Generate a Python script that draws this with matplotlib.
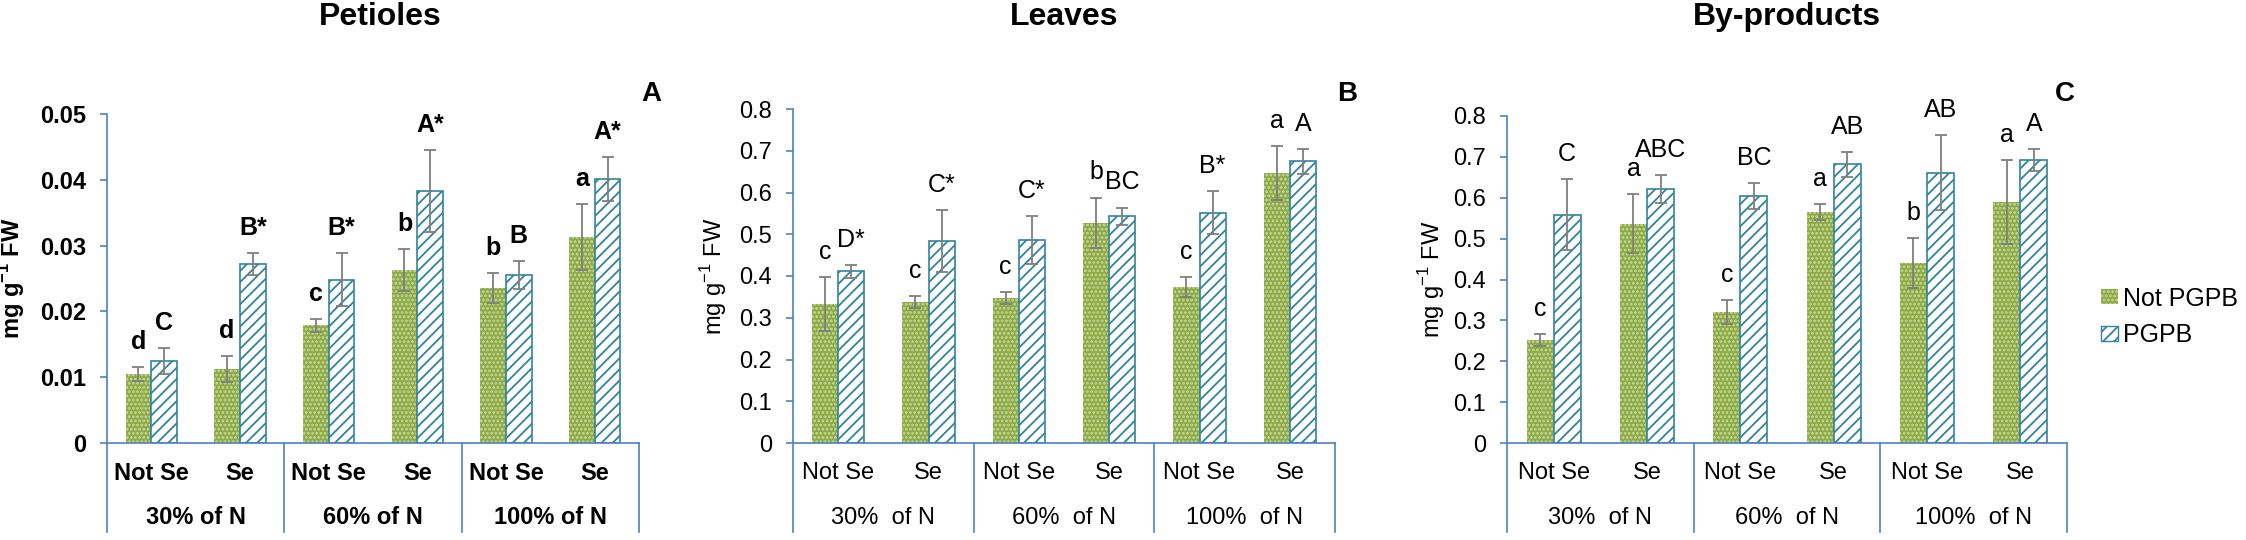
import numpy as np
import matplotlib.pyplot as plt
from matplotlib.patches import Patch
from matplotlib.ticker import FuncFormatter

plt.rcParams['font.family'] = ['Liberation Sans', 'DejaVu Sans']
plt.rcParams['mathtext.fontset'] = 'custom'
plt.rcParams['mathtext.rm'] = 'Liberation Sans'
plt.rcParams['mathtext.bf'] = 'Liberation Sans:bold'
plt.rcParams['hatch.linewidth'] = 1.3

treatments = ["Not Se", "Se", "Not Se", "Se", "Not Se", "Se"]
levels_a = ["30% of N", "60% of N", "100% of N"]
levels_bc = ["30%  of N", "60%  of N", "100%  of N"]

# Petioles
pet_not = [0.0105, 0.0112, 0.0179, 0.0263, 0.0236, 0.0313]
pet_not_err = [0.0011, 0.0020, 0.0010, 0.0032, 0.0023, 0.0050]
pet_pgpb = [0.0125, 0.0272, 0.0248, 0.0383, 0.0255, 0.0401]
pet_pgpb_err = [0.0020, 0.0017, 0.0040, 0.0062, 0.0021, 0.0033]
pet_not_lab = ["d", "d", "c", "b", "b", "a"]
pet_pgpb_lab = ["C", "B*", "B*", "A*", "B", "A*"]

# Leaves
leaf_not = [0.333, 0.337, 0.347, 0.527, 0.374, 0.646]
leaf_not_err = [0.064, 0.014, 0.015, 0.061, 0.024, 0.065]
leaf_pgpb = [0.411, 0.484, 0.486, 0.543, 0.552, 0.675]
leaf_pgpb_err = [0.016, 0.075, 0.058, 0.021, 0.051, 0.030]
leaf_not_lab = ["c", "c", "c", "b", "c", "a"]
leaf_pgpb_lab = ["D*", "C*", "C*", "BC", "B*", "A"]

# By-products
byp_not = [0.252, 0.537, 0.320, 0.565, 0.440, 0.590]
byp_not_err = [0.015, 0.071, 0.030, 0.019, 0.061, 0.102]
byp_pgpb = [0.559, 0.621, 0.604, 0.682, 0.661, 0.692]
byp_pgpb_err = [0.087, 0.035, 0.031, 0.031, 0.092, 0.027]
byp_not_lab = ["c", "a", "c", "a", "b", "a"]
byp_pgpb_lab = ["C", "ABC", "BC", "AB", "AB", "A"]

W, H = 2246, 540
BASE = 443  # pixel row of the zero line
axis_col = '#4F81BD'
green = '#8DAA46'
green_dot = '#C9DB9E'
teal = '#31849B'
err_col = '#7F7F7F'

fig = plt.figure(figsize=(W / 100, H / 100), dpi=100)


def panel(left, top, width, ymax, ystep, not_v, not_e, pg_v, pg_e,
          not_lab, pg_lab, levels, bold, title, title_x, letter, letter_x, ylab_dx):
    h = BASE - top
    ax = fig.add_axes([left / W, (H - BASE) / H, width / W, h / H])
    wt = 'bold' if bold else 'normal'
    x = np.arange(6)
    bw = 0.29

    ax.bar(x - bw / 2, not_v, bw, color=green, edgecolor=green_dot,
           hatch='....', linewidth=0, zorder=2)
    ax.bar(x + bw / 2, pg_v, bw, color='white', edgecolor=teal,
           hatch='///', linewidth=1.2, zorder=2)
    ax.errorbar(x - bw / 2, not_v, yerr=not_e, fmt='none', ecolor=err_col,
                elinewidth=1.3, capsize=4, capthick=1.3, zorder=3)
    ax.errorbar(x + bw / 2, pg_v, yerr=pg_e, fmt='none', ecolor=err_col,
                elinewidth=1.3, capsize=4, capthick=1.3, zorder=3)

    for i in range(6):
        ax.annotate(not_lab[i], (x[i] - bw / 2, not_v[i] + not_e[i]),
                    xytext=(0, 13), textcoords='offset points', ha='center',
                    va='baseline', fontsize=18, fontweight=wt)
        ax.annotate(pg_lab[i], (x[i] + bw / 2, pg_v[i] + pg_e[i]),
                    xytext=(0, 13), textcoords='offset points', ha='center',
                    va='baseline', fontsize=18, fontweight=wt)

    ax.set_xlim(-0.5, 5.5)
    ax.set_ylim(0, ymax)
    ax.set_yticks(np.arange(0, ymax + ystep / 2, ystep))
    ax.yaxis.set_major_formatter(FuncFormatter(lambda v, _: '0' if v == 0 else f'{v:g}'))
    ax.set_xticks([])
    for s in ['top', 'right']:
        ax.spines[s].set_visible(False)
    for s in ['left', 'bottom']:
        ax.spines[s].set_color(axis_col)
        ax.spines[s].set_linewidth(1.2)
    ax.tick_params(axis='y', direction='out', length=5, width=1.2,
                   color=axis_col, pad=10, labelsize=17)
    for t in ax.get_yticklabels():
        t.set_fontweight(wt)

    if bold:
        ax.set_ylabel(r'mg g$^{\mathbf{-1}}$ FW', fontsize=17, fontweight='bold')
    else:
        ax.set_ylabel(r'mg g$^{-1}$ FW', fontsize=17)
    ax.yaxis.set_label_coords(ylab_dx / width, 0.5)

    trans = ax.get_xaxis_transform()
    for sx in [-0.5, 1.5, 3.5, 5.5]:
        ax.plot([sx, sx], [0, -89 / h], transform=trans, clip_on=False,
                color=axis_col, lw=1.2)
    for i in range(6):
        ax.text(x[i], -30 / h, treatments[i], transform=trans, ha='center',
                va='center', fontsize=17, fontweight=wt)
    for g in range(3):
        ax.text(2 * g + 0.5, -75 / h, levels[g], transform=trans, ha='center',
                va='center', fontsize=17, fontweight=wt)

    fig.text(title_x / W, 1 - 17 / H, title, fontsize=23, fontweight='bold',
             ha='center', va='center')
    fig.text(letter_x / W, 1 - 94 / H, letter, fontsize=20, fontweight='bold',
             ha='center', va='center')
    return ax


panel(107, 114, 532, 0.05, 0.01, pet_not, pet_not_err, pet_pgpb, pet_pgpb_err,
      pet_not_lab, pet_pgpb_lab, levels_a, True, "Petioles", 380, "A", 651, -80)
panel(793, 109, 542, 0.8, 0.1, leaf_not, leaf_not_err, leaf_pgpb, leaf_pgpb_err,
      leaf_not_lab, leaf_pgpb_lab, levels_bc, False, "Leaves", 1064, "B", 1347, -64)
panel(1507, 116, 560, 0.8, 0.1, byp_not, byp_not_err, byp_pgpb, byp_pgpb_err,
      byp_not_lab, byp_pgpb_lab, levels_bc, False, "By-products", 1787, "C", 2065, -60)

handles = [Patch(facecolor=green, edgecolor=green_dot, hatch='....', linewidth=0),
           Patch(facecolor='white', edgecolor=teal, hatch='///', linewidth=1.0)]
fig.legend(handles=handles, labels=["Not PGPB", "PGPB"], loc='center left',
           bbox_to_anchor=(2101 / W, 1 - 317 / H), frameon=False, fontsize=18,
           handlelength=0.68, handleheight=0.55, handletextpad=0.2,
           labelspacing=0.5, borderpad=0, borderaxespad=0)

fig.savefig('out.png', dpi=100)
